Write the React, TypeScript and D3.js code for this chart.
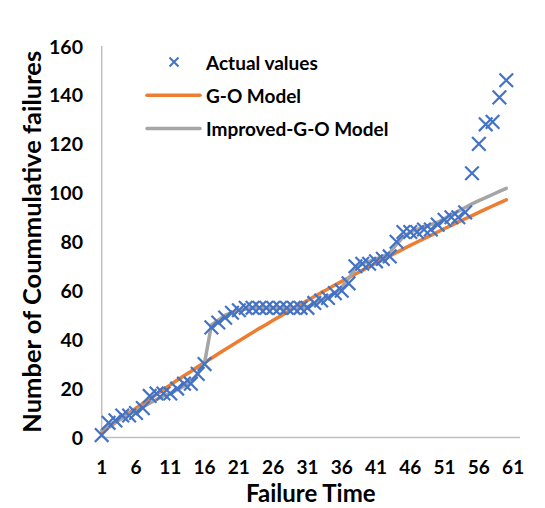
import React from "react";
import * as d3 from "d3";

// Failure index (1..60) and cumulative failures observed
const actualValues: number[] = [
  1, 6, 7, 9, 9, 10, 12, 17, 18, 18,
  18, 20, 22, 22, 26, 30, 45, 47, 49, 51,
  52, 53, 53, 53, 53, 53, 53, 53, 53, 53,
  53, 55, 56, 57, 59, 60, 63, 70, 71, 71,
  72, 73, 74, 80, 84, 84, 84, 85, 85, 87,
  89, 90, 90, 92, 108, 120, 128, 129, 139, 146,
];

// G-O model estimates
const goModel: number[] = [
  2.0, 4.1, 6.1, 8.0, 10.0, 12.0, 13.9, 15.8, 17.7, 19.6,
  21.5, 23.4, 25.2, 27.0, 28.9, 30.7, 32.4, 34.2, 36.0, 37.7,
  39.4, 41.2, 42.9, 44.6, 46.2, 47.9, 49.5, 51.2, 52.8, 54.4,
  56.0, 57.6, 59.2, 60.7, 62.3, 63.8, 65.3, 66.8, 68.3, 69.8,
  71.3, 72.7, 74.2, 75.6, 77.1, 78.5, 79.9, 81.3, 82.6, 84.0,
  85.4, 86.7, 88.1, 89.4, 90.7, 92.0, 93.3, 94.6, 95.9, 97.1,
];

// Improved G-O model estimates
const improvedGoModel: number[] = [
  3, 5, 6.5, 8, 9.5, 11, 12.5, 14, 15.5, 17,
  18, 19.5, 21, 23, 26, 30.5, 46, 48, 50, 51,
  52, 52.5, 53, 53, 53, 53, 53, 53, 53, 53,
  53.5, 54.5, 56, 57.5, 59, 61.5, 65, 69, 71, 72,
  73, 74, 75.5, 79, 82, 84, 85, 86, 87, 88,
  89.5, 91, 92.5, 94, 95.5, 96.8, 98, 99.3, 100.6, 101.8,
];

const xTicks: number[] = [1, 6, 11, 16, 21, 26, 31, 36, 41, 46, 51, 56, 61];
const yTicks: number[] = [0, 20, 40, 60, 80, 100, 120, 140, 160];

const legendItems: { label: string; kind: "marker" | "line"; color: string }[] = [
  { label: "Actual values", kind: "marker", color: "#4472C4" },
  { label: "G-O Model", kind: "line", color: "#ED7D31" },
  { label: "Improved-G-O Model", kind: "line", color: "#A5A5A5" },
];

const W = 545;
const H = 508;
const FONT = "Lato, 'Open Sans', sans-serif";

export default function App() {
  const left = 101.7;
  const right = 520;
  const top = 46;
  const bottom = 437.5;

  const x = d3.scaleLinear().domain([1, 62]).range([left, right]);
  const y = d3.scaleLinear().domain([0, 160]).range([bottom, top]);

  const line = d3
    .line<number>()
    .x((_, i) => x(i + 1))
    .y((d) => y(d));

  const cross = (cx: number, cy: number, r: number) =>
    `M${cx - r},${cy - r}L${cx + r},${cy + r}M${cx - r},${cy + r}L${cx + r},${cy - r}`;

  return (
    <svg
      width={W}
      height={H}
      style={{ position: "absolute", left: 0, top: 0, background: "#fff" }}
      fontFamily={FONT}
    >
      {/* axes */}
      <line x1={left} x2={left} y1={top} y2={bottom} stroke="#BFBFBF" strokeWidth={1.5} />
      <line x1={left} x2={right} y1={bottom} y2={bottom} stroke="#BFBFBF" strokeWidth={1.5} />

      {/* y tick labels */}
      {yTicks.map((t) => (
        <text
          key={`y${t}`}
          x={83}
          y={y(t)}
          textAnchor="end"
          dominantBaseline="central"
          fontSize={19.5}
          fontWeight={700}
          fill="#000"
        >
          {t}
        </text>
      ))}

      {/* x tick labels */}
      {xTicks.map((t) => (
        <text
          key={`x${t}`}
          x={x(t)}
          y={466}
          textAnchor="middle"
          dominantBaseline="central"
          fontSize={19}
          fontWeight={700}
          fill="#000"
        >
          {t}
        </text>
      ))}

      {/* axis titles */}
      <text
        x={(left + right) / 2}
        y={492.5}
        textAnchor="middle"
        dominantBaseline="central"
        fontSize={24}
        fontWeight={700}
      >
        Failure Time
      </text>
      <text
        transform={`translate(31,${(top + bottom) / 2}) rotate(-90)`}
        textAnchor="middle"
        dominantBaseline="central"
        fontSize={25.5}
        fontWeight={700}
      >
        Number of Coummulative failures
      </text>

      {/* model curves */}
      <path d={line(goModel) ?? ""} fill="none" stroke="#ED7D31" strokeWidth={3.5} strokeLinejoin="round" strokeLinecap="round" />
      <path d={line(improvedGoModel) ?? ""} fill="none" stroke="#A5A5A5" strokeWidth={3.5} strokeLinejoin="round" strokeLinecap="round" />

      {/* observed values */}
      <g stroke="#4472C4" strokeWidth={2.2} fill="none">
        {actualValues.map((v, i) => (
          <path key={`p${i}`} d={cross(x(i + 1), y(v), 6.8)} />
        ))}
      </g>

      {/* legend */}
      {legendItems.map((item, i) => {
        const ly = 62 + i * 33.2;
        return (
          <g key={item.label}>
            {item.kind === "marker" ? (
              <path d={cross(174, ly, 4.5)} stroke={item.color} strokeWidth={2} fill="none" />
            ) : (
              <line x1={147} x2={200} y1={ly} y2={ly} stroke={item.color} strokeWidth={3.5} strokeLinecap="round" />
            )}
            <text x={206} y={ly} dominantBaseline="central" fontSize={19} fontWeight={700}>
              {item.label}
            </text>
          </g>
        );
      })}
    </svg>
  );
}
